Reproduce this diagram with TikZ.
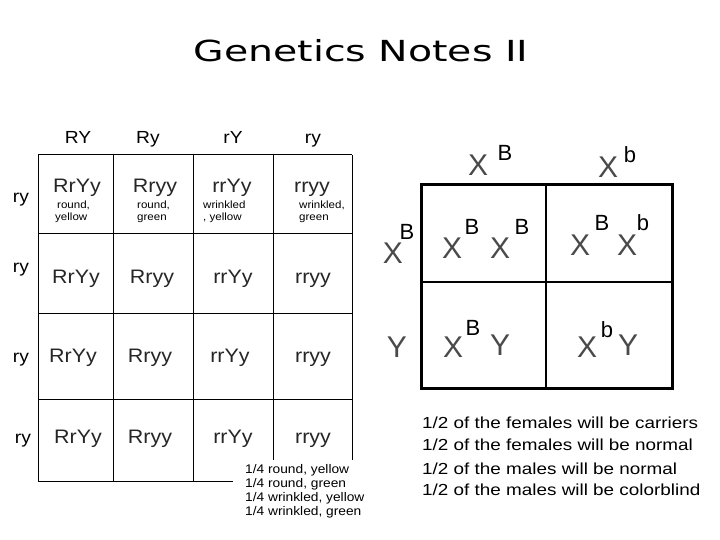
\documentclass[tikz,border=0pt]{standalone}
\usepackage{fontspec}
\setmainfont{Liberation Sans}
\newfontfamily\wf[FakeStretch=1.1]{Liberation Sans}
\newfontfamily\wfn[FakeStretch=1.18]{Liberation Sans}
\newfontfamily\titlefont[FakeStretch=1.36]{DejaVu Sans}
\definecolor{xgray}{HTML}{4A4A4A}
\tikzset{
  hdr/.style={font=\wf\fontsize{17.5}{17.5}\selectfont, inner sep=0pt, anchor=base},
  geno/.style={font=\wf\fontsize{19.5}{19.5}\selectfont, inner sep=0pt, text=black!85, anchor=base},
  tiny/.style={font=\wf\fontsize{10.5}{10.5}\selectfont, inner sep=0pt, anchor=base west},
  bigx/.style={font=\fontsize{30}{30}\selectfont, inner sep=0pt, text=xgray},
  supr/.style={font=\fontsize{22}{22}\selectfont, inner sep=0pt},
  note/.style={font=\wfn\fontsize{16}{16}\selectfont, inner sep=0pt, anchor=base west},
  keyt/.style={font=\wf\fontsize{12.5}{12.5}\selectfont, inner sep=0pt, anchor=base west},
  thin/.style={line width=1pt},
  thick2/.style={line width=2pt},
}
\begin{document}
\begin{tikzpicture}[x=1pt,y=-1pt]
\useasboundingbox (0,0) rectangle (720,540);
\fill[white] (0,0) rectangle (720,540);
% title
\node[font=\titlefont\fontsize{29}{29}\selectfont, inner sep=0pt, anchor=base] (title) at (361,62) {Genetics Notes II};

% ---- left Punnett square ----
\draw[thin] (38,155) -- (352,155);
\draw[thin] (38,233) -- (352,233);
\draw[thin] (38,313) -- (352,313);
\draw[thin] (38,399) -- (352,399);
\draw[thin] (38,481) -- (233,481);
\draw[thin] (38,155) -- (38,481);
\draw[thin] (113,155) -- (113,481);
\draw[thin] (193,155) -- (193,481);
\draw[thin] (273,155) -- (273,460);
\draw[thin] (352,155) -- (352,460);

\node[hdr] (h1) at (78,144) {RY};
\node[hdr] (h2) at (148,144) {Ry};
\node[hdr] (h3) at (233,144) {rY};
\node[hdr] (h4) at (313,144) {ry};

\node[hdr] (r1) at (21,203) {ry};
\node[hdr] (r2) at (21,272) {ry};
\node[hdr] (r3) at (21,362) {ry};
\node[hdr] (r4) at (23,443) {ry};

\node[geno] (c11) at (77,193) {RrYy};
\node[geno] (c12) at (155,193) {Rryy};
\node[geno] (c13) at (232,193) {rrYy};
\node[geno] (c14) at (312,193) {rryy};
\node[tiny] (t11a) at (57,208) {round,};
\node[tiny] (t11b) at (55,221) {yellow};
\node[tiny] (t12a) at (137,208) {round,};
\node[tiny] (t12b) at (137,221) {green};
\node[tiny] (t13a) at (203,208) {wrinkled};
\node[tiny] (t13b) at (203,221) {, yellow};
\node[tiny] (t14a) at (299,208) {wrinkled,};
\node[tiny] (t14b) at (299,221) {green};

\node[geno] (c21) at (76,283) {RrYy};
\node[geno] (c22) at (152,283) {Rryy};
\node[geno] (c23) at (233,283) {rrYy};
\node[geno] (c24) at (313,283) {rryy};

\node[geno] (c31) at (73,362) {RrYy};
\node[geno] (c32) at (150,362) {Rryy};
\node[geno] (c33) at (230,362) {rrYy};
\node[geno] (c34) at (313,362) {rryy};

\node[geno] (c41) at (78,443) {RrYy};
\node[geno] (c42) at (150,443) {Rryy};
\node[geno] (c43) at (233,443) {rrYy};
\node[geno] (c44) at (313,443) {rryy};

\node[keyt] (k1) at (245,473) {1/4 round, yellow};
\node[keyt] (k2) at (245,487) {1/4 round, green};
\node[keyt] (k3) at (245,501) {1/4 wrinkled, yellow};
\node[keyt] (k4) at (245,515) {1/4 wrinkled, green};

% ---- right Punnett square ----
\draw[line width=3pt] (421,185) rectangle (672,388);
\draw[thick2] (546,185) -- (546,388);
\draw[thick2] (421,282) -- (672,282);

% headers
\node[bigx] (hx1) at (478,165) {X};
\node[supr] (hs1) at (505,153) {B};
\node[bigx] (hx2) at (608,167) {X};
\node[supr] (hs2) at (630,155) {b};
% row labels
\node[bigx] (rx1) at (393,253) {X};
\node[supr] (rs1) at (407,232) {B};
\node[bigx] (ry2) at (397,347) {Y};
% cells
\node[bigx] (a1) at (452,248) {X};
\node[supr] (a2) at (472,227) {B};
\node[bigx] (a3) at (500,248) {X};
\node[supr] (a4) at (522,227) {B};

\node[bigx] (b1) at (580,245) {X};
\node[supr] (b2) at (602,223) {B};
\node[bigx] (b3) at (627,245) {X};
\node[supr] (b4) at (643,223) {b};

\node[bigx] (d1) at (453,347) {X};
\node[supr] (d2) at (473,328) {B};
\node[bigx] (d3) at (500,345) {Y};

\node[bigx] (e1) at (587,347) {X};
\node[supr] (e2) at (607,330) {b};
\node[bigx] (e3) at (628,345) {Y};

\node[note] (n1) at (422,428) {1/2 of the females will be carriers};
\node[note] (n2) at (422,450) {1/2 of the females will be normal};
\node[note] (n3) at (422,474) {1/2 of the males will be normal};
\node[note] (n4) at (422,495) {1/2 of the males will be colorblind};
\end{tikzpicture}
\end{document}
